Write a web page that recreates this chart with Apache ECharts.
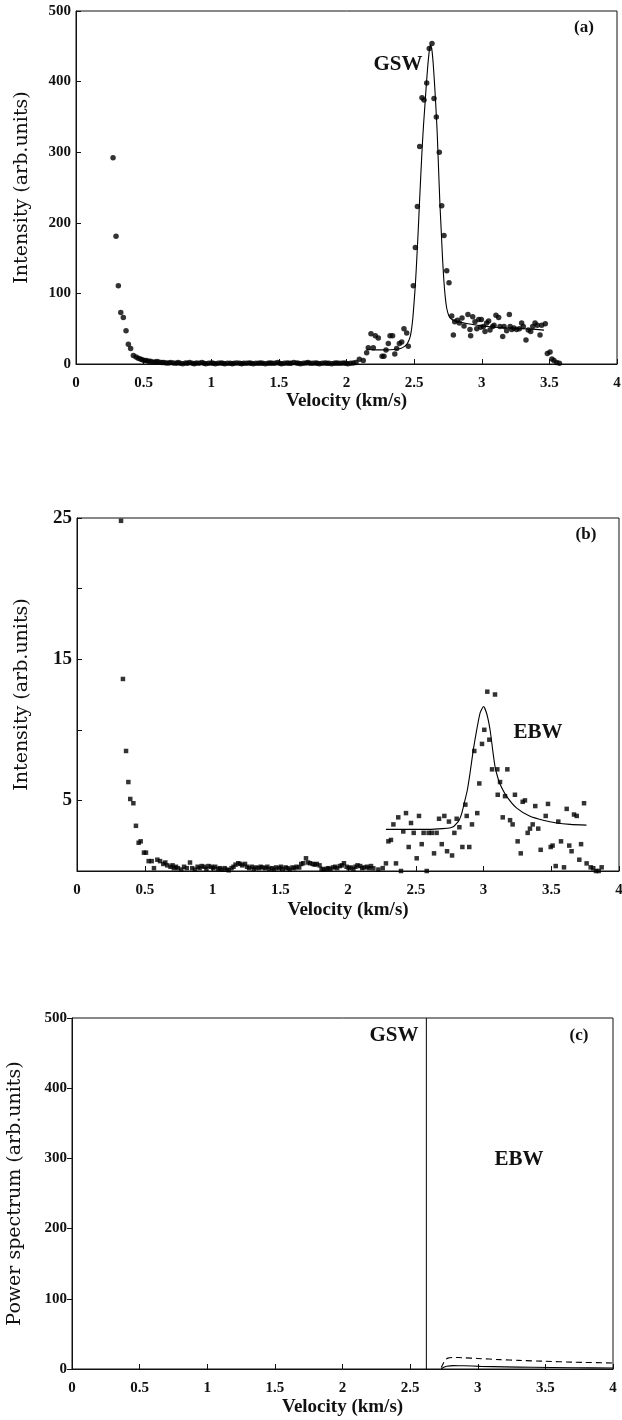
<!DOCTYPE html>
<html>
<head>
<meta charset="utf-8">
<title>GSW / EBW velocity spectra</title>
<script src="https://cdn.jsdelivr.net/npm/echarts@6/dist/echarts.min.js"></script>
<style>
  html, body { margin: 0; padding: 0; background: #fff; }
  #chart { width: 622px; height: 1420px; }
</style>
</head>
<body>
<div id="chart"></div>
<script>
// panel (a): measured intensity, [velocity km/s, intensity]
var aDecay = [[0.274,292],[0.296,181],[0.313,111],[0.331,73],[0.35,66],[0.37,47],[0.387,28],[0.404,22],[0.424,12],[0.444,10],[0.46,8],[0.476,7],[0.49,6],[0.505,5],[0.52,5],[0.535,4],[0.55,4],[0.567,3],[0.585,3],[0.60,3.5],[0.617,2.5],[0.635,2],[0.65,2],[0.667,1.5],[0.685,1.5]];
var aBase = [[0.70,2],[0.72,1.5],[0.74,1],[0.755,2],[0.77,1],[0.79,0.5],[0.81,1.5],[0.825,1],[0.84,2],[0.86,1],[0.875,0.5],[0.89,1.5],[0.91,1],[0.93,2],[0.945,1],[0.96,0.5],[0.98,1],[1.00,1.5],[1.015,1],[1.03,0.5],[1.05,1],[1.07,1.5],[1.085,1],[1.10,0.5],[1.12,1],[1.14,1],[1.155,0.5],[1.17,1],[1.19,1.5],[1.21,1],[1.225,0.5],[1.24,1],[1.26,1],[1.28,1.5],[1.295,1],[1.31,0.5],[1.33,1],[1.35,1],[1.365,1.5],[1.38,1],[1.40,0.5],[1.42,1],[1.435,1.5],[1.45,1],[1.47,1],[1.49,2],[1.505,1],[1.52,0.5],[1.54,1],[1.56,1.5],[1.575,1],[1.59,1],[1.61,2],[1.63,1.5],[1.645,1],[1.66,0.5],[1.68,1],[1.70,1.5],[1.715,2],[1.73,1],[1.75,1],[1.77,1.5],[1.785,1],[1.80,0.5],[1.82,1],[1.84,1.5],[1.855,1],[1.87,1],[1.89,0.5],[1.91,1],[1.925,1.5],[1.94,1],[1.96,1],[1.98,1.5],[1.995,1],[2.01,0.5],[2.03,1],[2.05,1.5],[2.07,2]];
var aPeak = [[2.095,6.6],[2.124,5],[2.149,16],[2.161,23],[2.181,43],[2.198,23],[2.213,40],[2.235,37],[2.263,11],[2.277,11],[2.292,20],[2.309,29],[2.322,40],[2.341,40],[2.357,14],[2.371,22],[2.391,29],[2.408,31],[2.425,50],[2.445,44],[2.457,25],[2.494,111],[2.509,165],[2.524,223],[2.541,308],[2.558,377],[2.573,374],[2.593,398],[2.612,447],[2.632,454],[2.647,376],[2.664,350],[2.686,300],[2.704,224],[2.721,182],[2.741,132],[2.758,115]];
var aPlateau = [[2.778,68],[2.790,41],[2.800,60],[2.820,62],[2.834,58],[2.854,65],[2.869,54],[2.898,70],[2.913,49],[2.918,40],[2.933,67],[2.950,60],[2.963,50],[2.978,63],[2.992,52],[2.997,63],[3.012,53],[3.024,46],[3.036,58],[3.051,61],[3.061,48],[3.081,53],[3.091,55],[3.105,69],[3.125,66],[3.135,53],[3.155,39],[3.165,53],[3.184,47],[3.204,70],[3.210,53],[3.222,49],[3.238,51],[3.258,49],[3.278,50],[3.295,58],[3.307,53],[3.327,34],[3.344,48],[3.362,46],[3.377,53],[3.394,58],[3.411,55],[3.431,41],[3.443,55],[3.470,57],[3.485,15],[3.505,17],[3.519,7],[3.534,5],[3.554,2],[3.574,1]];
var aFit = [[2.15,21],[2.20,20],[2.25,20],[2.30,20],[2.35,20.5],[2.40,22],[2.43,25],[2.45,29],[2.47,38],[2.48,48],[2.49,64],[2.50,88],[2.51,115],[2.52,150],[2.53,188],[2.54,230],[2.55,270],[2.56,308],[2.57,340],[2.58,367],[2.59,395],[2.60,420],[2.61,440],[2.62,452],[2.63,447],[2.64,428],[2.65,400],[2.66,367],[2.67,330],[2.68,280],[2.69,230],[2.70,190],[2.71,150],[2.72,118],[2.73,95],[2.74,80],[2.75,72],[2.76,67],[2.78,63],[2.80,61],[2.85,59],[2.90,57],[3.00,54],[3.10,52],[3.20,51],[3.30,50],[3.40,49],[3.46,48]];

// panel (b): measured intensity, [velocity km/s, intensity]
var bDecay = [[0.325,24.8],[0.339,13.6],[0.362,8.5],[0.379,6.3],[0.393,5.1],[0.416,4.8],[0.435,3.2],[0.455,2.0],[0.470,2.1],[0.494,1.3],[0.509,1.3],[0.529,0.7],[0.551,0.7],[0.568,0.2],[0.593,0.8],[0.613,0.7],[0.637,0.5],[0.652,0.6],[0.666,0.4],[0.69,0.3],[0.705,0.4],[0.715,0.2],[0.73,0.3],[0.745,0.2],[0.77,0.1],[0.79,0.3],[0.81,0.2],[0.834,0.6],[0.85,0.2]];
var bBase = [[0.87,0.1],[0.89,0.3],[0.905,0.2],[0.92,0.35],[0.94,0.3],[0.955,0.15],[0.97,0.35],[0.99,0.3],[1.005,0.2],[1.02,0.3],[1.04,0.15],[1.055,0.2],[1.07,0.1],[1.09,0.2],[1.105,0.1],[1.12,0.05],[1.14,0.2],[1.155,0.3],[1.17,0.45],[1.19,0.55],[1.205,0.5],[1.22,0.4],[1.24,0.5],[1.255,0.3],[1.27,0.2],[1.29,0.3],[1.305,0.15],[1.32,0.25],[1.34,0.2],[1.355,0.3],[1.37,0.25],[1.39,0.2],[1.405,0.3],[1.42,0.15],[1.44,0.2],[1.455,0.1],[1.47,0.25],[1.49,0.2],[1.505,0.3],[1.52,0.15],[1.54,0.25],[1.555,0.2],[1.57,0.1],[1.59,0.25],[1.605,0.2],[1.62,0.3],[1.64,0.25],[1.655,0.5],[1.67,0.55],[1.69,0.9],[1.705,0.6],[1.72,0.55],[1.74,0.5],[1.755,0.45],[1.77,0.5],[1.79,0.4],[1.805,0.15],[1.82,0.1],[1.84,0.15],[1.855,0.2],[1.87,0.15],[1.89,0.25],[1.905,0.3],[1.92,0.2],[1.94,0.35],[1.955,0.4],[1.97,0.55],[1.99,0.3],[2.005,0.2],[2.02,0.25],[2.04,0.15],[2.055,0.3],[2.07,0.4],[2.09,0.35],[2.105,0.2],[2.12,0.25],[2.14,0.3],[2.155,0.2],[2.17,0.35]];
var bPeak = [[2.187,0.19],[2.224,0.1],[2.256,0.2],[2.280,0.54],[2.298,2.1],[2.317,2.2],[2.335,3.3],[2.354,0.54],[2.371,3.8],[2.391,0],[2.408,2.8],[2.428,4.1],[2.448,1.7],[2.465,3.4],[2.485,2.7],[2.507,0.9],[2.524,3.9],[2.544,1.9],[2.558,2.7],[2.581,0],[2.595,2.7],[2.618,2.7],[2.635,1.25],[2.654,2.7],[2.672,3.7],[2.692,1.9],[2.711,3.9],[2.731,1.4],[2.745,3.5],[2.768,1.1],[2.785,2.7],[2.802,3.7],[2.822,3.1],[2.844,1.7],[2.866,4.7],[2.876,3.9],[2.895,1.7],[2.915,3.3],[2.932,8.5],[2.954,4.1],[2.969,6.2],[2.989,9.0],[3.006,10.0],[3.028,12.7],[3.043,9.3],[3.063,7.2],[3.085,12.5],[3.102,7.2],[3.105,5.4],[3.122,6.3],[3.142,3.8],[3.159,5.3],[3.176,7.2],[3.196,3.6],[3.215,3.3],[3.232,5.4],[3.252,2.1],[3.275,1.25],[3.289,4.9],[3.306,5.0],[3.326,2.7],[3.343,3.0],[3.363,3.3],[3.382,4.6],[3.404,3.0],[3.422,1.5],[3.459,3.9],[3.476,4.75],[3.496,1.7],[3.510,1.8],[3.533,0.35],[3.552,3.5],[3.572,2.1],[3.594,0.26],[3.614,4.4],[3.633,1.8],[3.650,1.4],[3.668,4.0],[3.688,3.9],[3.707,0.8],[3.720,1.9],[3.742,4.8],[3.761,0.54],[3.791,0.26],[3.810,0.2],[3.830,0],[3.850,0],[3.872,0.26]];
var bFit = [[2.28,2.95],[2.40,2.95],[2.50,2.95],[2.60,2.95],[2.70,3.0],[2.75,3.05],[2.78,3.15],[2.80,3.35],[2.82,3.6],[2.84,4.1],[2.86,4.9],[2.88,5.7],[2.90,6.9],[2.925,8.6],[2.95,10.0],[2.975,11.2],[3.00,11.65],[3.025,11.1],[3.05,9.9],[3.07,8.4],[3.085,7.4],[3.10,6.8],[3.12,6.2],[3.17,5.3],[3.245,4.45],[3.34,3.9],[3.44,3.6],[3.54,3.4],[3.64,3.3],[3.76,3.25]];

// panel (c): power spectrum
var cGswLine = [[2.62,0],[2.62,500]];
var cDash = [[2.73,2],[2.745,8],[2.76,13],[2.78,15.5],[2.82,16.5],[2.9,16],[3.0,15],[3.17,13.3],[3.3,12.3],[3.5,11],[3.7,9.8],[4.0,8.5]];
var cSolid = [[2.73,0],[2.745,2],[2.77,3.8],[2.82,4.8],[2.9,4.6],[3.02,3.8],[3.2,3],[3.4,2.4],[3.7,1.8],[4.0,1.4]];

var yLabelsB = [5, 15, 25];

var serif = "'Liberation Serif', 'DejaVu Serif', serif";
var wideSerif = "'DejaVu Serif', 'Liberation Serif', serif";
var ink = "#111";

function xAx(idx, gap) {
  return {
    gridIndex: idx, type: "value", min: 0, max: 4, interval: 0.5,
    name: "Velocity (km/s)", nameLocation: "middle", nameGap: gap,
    nameTextStyle: { fontFamily: serif, fontWeight: "bold", fontSize: 19, color: ink },
    axisLine: { lineStyle: { color: ink, width: 1 } },
    axisTick: { inside: true, length: 5, lineStyle: { color: ink } },
    axisLabel: { margin: 12, fontFamily: serif, fontWeight: "bold", fontSize: 15, color: ink },
    splitLine: { show: false }
  };
}
function yAx(idx, max, interval, title, gap, tickInside, labelSize, formatter) {
  return {
    gridIndex: idx, type: "value", min: 0, max: max, interval: interval,
    name: title, nameLocation: "middle", nameGap: gap,
    nameTextStyle: { fontFamily: wideSerif, fontSize: 19, color: ink },
    axisLine: { lineStyle: { color: ink, width: 1 } },
    axisTick: { inside: tickInside, length: 5, lineStyle: { color: ink } },
    axisLabel: { margin: 5, fontFamily: serif, fontWeight: "bold", fontSize: labelSize, color: ink, formatter: formatter },
    splitLine: { show: false }
  };
}
function dots(idx, data, shape, size) {
  return {
    type: "scatter", xAxisIndex: idx, yAxisIndex: idx, data: data,
    symbol: shape, symbolSize: size, itemStyle: { color: "#000" }, silent: true
  };
}
function curve(idx, data, dash) {
  return {
    type: "line", xAxisIndex: idx, yAxisIndex: idx, data: data,
    showSymbol: false, smooth: 0.2,
    lineStyle: { color: "#000", width: 1.1, type: dash ? [6, 4] : "solid" }, silent: true
  };
}
function label(text, x, y, size) {
  return {
    type: "text", x: x, y: y, silent: true,
    style: { text: text, font: "bold " + size + "px " + serif, fill: ink, align: "center", verticalAlign: "middle" }
  };
}

var chart = echarts.init(document.getElementById("chart"), null, { renderer: "canvas" });
var box = { show: true, borderColor: ink, borderWidth: 1, backgroundColor: "transparent", outerBoundsMode: "none", containLabel: false };
chart.setOption({
  backgroundColor: "#fff",
  animation: false,
  grid: [
    Object.assign({ left: 76, top: 11, width: 541, height: 353 }, box),
    Object.assign({ left: 77, top: 518, width: 542, height: 353 }, box),
    Object.assign({ left: 72, top: 1018, width: 541, height: 351 }, box)
  ],
  xAxis: [xAx(0, 28), xAx(1, 30), xAx(2, 29)],
  yAxis: [
    yAx(0, 500, 100, "Intensity (arb.units)", 44, true, 15),
    yAx(1, 25, 5, "Intensity (arb.units)", 45, true, 19, function (v) {
      return yLabelsB.indexOf(v) >= 0 ? String(v) : "";
    }),
    yAx(2, 500, 100, "Power spectrum (arb.units)", 47, false, 15)
  ],
  series: [
    dots(0, aDecay, "circle", 5.5),
    dots(0, aBase, "circle", 5.5),
    dots(0, aPeak, "circle", 5.5),
    dots(0, aPlateau, "circle", 5.5),
    curve(0, aFit, false),
    dots(1, bDecay, "rect", 4.5),
    dots(1, bBase, "rect", 4.5),
    dots(1, bPeak, "rect", 4.5),
    curve(1, bFit, false),
    {
      type: "line", xAxisIndex: 2, yAxisIndex: 2, data: cGswLine, showSymbol: false,
      lineStyle: { color: "#000", width: 1 }, silent: true
    },
    curve(2, cDash, true),
    curve(2, cSolid, false)
  ],
  graphic: [
    label("GSW", 398, 65, 21),
    label("(a)", 584, 28, 17),
    label("EBW", 538, 733, 21),
    label("(b)", 586, 535, 17),
    label("GSW", 394, 1036, 21),
    label("(c)", 579, 1036, 17),
    label("EBW", 519, 1160, 21)
  ]
});
</script>
</body>
</html>
